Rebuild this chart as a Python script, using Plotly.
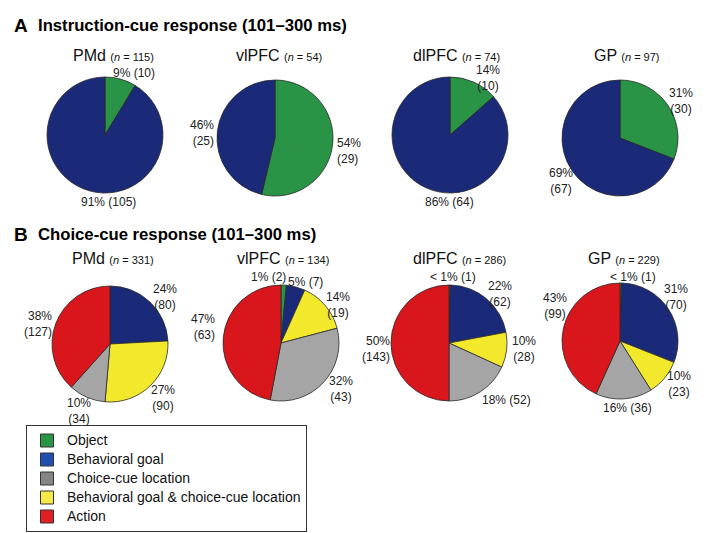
import plotly.graph_objects as go

# ---------------- data ----------------
areas = ["PMd", "vlPFC", "dlPFC", "GP"]

instr_categories = ["Object", "Behavioral goal"]
instr_object = [10, 29, 10, 30]
instr_goal = [105, 25, 64, 67]

choice_categories = ["Object", "Behavioral goal", "Behavioral goal & choice-cue location",
                     "Choice-cue location", "Action"]
choice_object = [0, 2, 1, 1]
choice_goal = [80, 7, 62, 70]
choice_goal_loc = [90, 19, 28, 23]
choice_loc = [34, 43, 52, 36]
choice_action = [127, 63, 143, 99]

legend_categories = ["Object", "Behavioral goal", "Choice-cue location",
                     "Behavioral goal & choice-cue location", "Action"]

section_titles = ["Instruction-cue response (101\u2013300 ms)", "Choice-cue response (101\u2013300 ms)"]
section_letters = ["A", "B"]

# ---------------- styles / layout ----------------
OFF = 8                      # page body margin of the html page
W, H = 707 - OFF, 533 - OFF  # figure size so that it fits in the window
FONT = "Liberation Sans"
pie_colors = {
    "Object": "#2a9446",
    "Behavioral goal": "#1b2a78",
    "Choice-cue location": "#a5a5a5",
    "Behavioral goal & choice-cue location": "#f2e82c",
    "Action": "#d8161c",
}
legend_colors = {
    "Object": "#2a9446",
    "Behavioral goal": "#2250b0",
    "Choice-cue location": "#858585",
    "Behavioral goal & choice-cue location": "#f6ea48",
    "Action": "#e01e24",
}
R = 58
centers_A = [(105, 135), (275, 138), (450, 135), (620, 138)]
centers_B = [(110, 344), (281, 343), (449, 343), (620, 341)]
titles_A_pos = [(113, 56), (279, 56), (456, 55), (627, 56)]
titles_B_pos = [(113, 258), (283, 258), (459, 258), (624, 258)]
section_pos = [26, 234]

# label positions (window px) and whether the label is split on two lines, per slice in data order
labels_A_pos = [
    [(134, 73, 0, "center"), (108, 202, 0, "center")],
    [(349, 151, 1, "left"), (202, 133, 1, "right")],
    [(488, 78, 1, "center"), (449, 202, 0, "center")],
    [(681, 101, 1, "center"), (561, 181, 1, "center")],
]
labels_B_pos = [
    [None, (165, 297, 1, "center"), (163, 398, 1, "center"), (79, 411, 1, "center"), (38, 324, 1, "right")],
    [(268, 277, 0, "center"), (305, 282, 0, "center"), (338, 305, 1, "center"), (341, 389, 1, "center"), (203, 327, 1, "right")],
    [(453, 277, 0, "center"), (500, 294, 1, "center"), (524, 349, 1, "center"), (506, 400, 0, "center"), (376, 349, 1, "right")],
    [(633, 277, 0, "center"), (676, 297, 1, "center"), (679, 384, 1, "center"), (627, 408, 0, "center"), (555, 306, 1, "center")],
]


def px(x):
    return (x - OFF) / W


def py(y):
    return 1 - (y - OFF) / H


def dom(cx, cy, r):
    return dict(x=[px(cx - r), px(cx + r)], y=[py(cy + r), py(cy - r)])


def pct_text(v, n):
    p = 100.0 * v / n
    return "< 1%" if p < 1 else f"{int(round(p))}%"


fig = go.Figure()
annotations = []

rows = [
    (instr_categories, [instr_object, instr_goal], centers_A, titles_A_pos, labels_A_pos),
    (choice_categories, [choice_object, choice_goal, choice_goal_loc, choice_loc, choice_action],
     centers_B, titles_B_pos, labels_B_pos),
]

for cats, series, centers, tpos, lpos in rows:
    for i, area in enumerate(areas):
        vals = [s[i] for s in series]
        n = sum(vals)
        keep = [k for k, v in enumerate(vals) if v > 0]
        fig.add_trace(go.Pie(
            labels=[cats[k] for k in keep],
            values=[vals[k] for k in keep],
            marker=dict(colors=[pie_colors[cats[k]] for k in keep],
                        line=dict(color="#2a2a2a", width=0.8)),
            sort=False, direction="clockwise", rotation=0,
            textinfo="none", hoverinfo="label+value+percent",
            showlegend=False,
            domain=dom(centers[i][0], centers[i][1], R),
        ))
        # area title
        annotations.append(dict(
            x=px(tpos[i][0]), y=py(tpos[i][1]), xref="paper", yref="paper",
            text=f"{area} <span style='font-size:11px'>(<i>n</i> = {n})</span>",
            showarrow=False, xanchor="center", yanchor="middle",
            font=dict(family=FONT, size=16, color="#111"),
        ))
        # slice labels
        for k in keep:
            spec = lpos[i][k]
            if spec is None:
                continue
            x, y, two, al = spec
            sep = "<br>" if two else " "
            annotations.append(dict(
                x=px(x), y=py(y), xref="paper", yref="paper",
                text=f"{pct_text(vals[k], n)}{sep}({vals[k]})",
                showarrow=False, xanchor="center", yanchor="middle", align=al,
                font=dict(family=FONT, size=12, color="#222"),
            ))

for letter, title, y in zip(section_letters, section_titles, section_pos):
    annotations.append(dict(x=px(12), y=py(y), xref="paper", yref="paper", text=f"<b>{letter}</b>",
                            showarrow=False, xanchor="left", yanchor="middle",
                            font=dict(family=FONT, size=19, color="#000")))
    annotations.append(dict(x=px(36), y=py(y), xref="paper", yref="paper", text=f"<b>{title}</b>",
                            showarrow=False, xanchor="left", yanchor="middle",
                            font=dict(family=FONT, size=16.7, color="#000")))

# legend entries
for cat in legend_categories:
    fig.add_trace(go.Scatter(
        x=[None], y=[None], mode="markers",
        name=f"<span style='font-size:14px'>{cat}</span>",
        marker=dict(symbol="square", size=13, color=legend_colors[cat],
                    line=dict(color="#333", width=1)),
        showlegend=True, hoverinfo="skip",
    ))

fig.update_layout(
    width=W, height=H,
    margin=dict(l=0, r=0, t=0, b=0),
    paper_bgcolor="white", plot_bgcolor="white",
    xaxis=dict(visible=False), yaxis=dict(visible=False),
    showlegend=True,
    legend=dict(x=px(26), y=py(425), xanchor="left", yanchor="top",
                bordercolor="#333", borderwidth=1, bgcolor="white",
                font=dict(family=FONT, size=12, color="#111"),
                tracegroupgap=0, itemwidth=30),
    annotations=annotations,
    font=dict(family=FONT),
)

fig.write_html("out.html")
